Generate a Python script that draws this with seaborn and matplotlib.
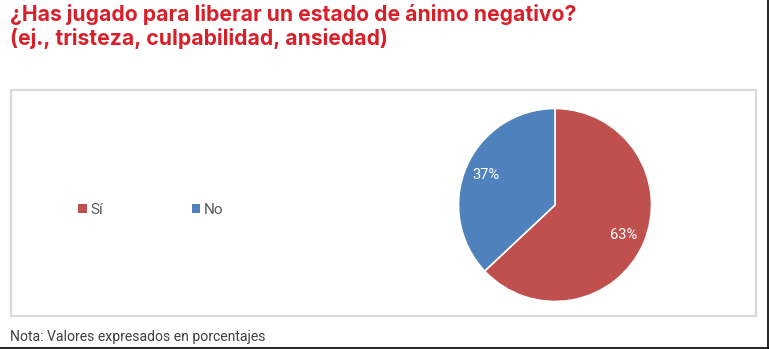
import matplotlib
matplotlib.use("Agg")
import matplotlib.pyplot as plt
from matplotlib.patches import Rectangle, Patch
from matplotlib.lines import Line2D
import seaborn as sns
import pandas as pd

# Survey answers
categories = ["Sí", "No"]
percentages = [63, 37]
colors = ["#c0504d", "#4f81bd"]

title_text = "¿Has jugado para liberar un estado de ánimo negativo?\n(ej., tristeza, culpabilidad, ansiedad)"
note_text = "Nota: Valores expresados en porcentajes"

df = pd.DataFrame({"respuesta": categories, "porcentaje": percentages})

sns.set_theme(style="white")
plt.rcParams["font.family"] = ["Roboto", "DejaVu Sans"]

W, H = 769, 349
fig = plt.figure(figsize=(W / 100, H / 100), dpi=100)
fig.patch.set_facecolor("white")


def fx(px):
    return px / W


def fy(py):
    return 1 - py / H


# Chart frame
fig.add_artist(Rectangle((fx(11), fy(316)), fx(756) - fx(11), fy(90) - fy(316),
                         transform=fig.transFigure, fill=False,
                         edgecolor="#d9d9d9", linewidth=1.6))
# Outer page edges (right and bottom)
fig.add_artist(Line2D([fx(768), fx(768)], [0, 1], transform=fig.transFigure,
                      color="black", linewidth=1.2))
fig.add_artist(Line2D([0, 1], [fy(347.5), fy(347.5)], transform=fig.transFigure,
                      color="black", linewidth=1.2))

# Pie
cx, cy, r = 555, 205, 96.5
ax = fig.add_axes([fx(cx - r), fy(cy + r), fx(2 * r), (2 * r) / H])
wedges, texts, autotexts = ax.pie(
    df["porcentaje"], colors=colors, startangle=90, counterclock=False,
    autopct="%1.0f%%", pctdistance=0.78, radius=1,
    wedgeprops=dict(edgecolor="white", linewidth=1.2),
    textprops=dict(color="white", fontsize=10.5),
)
ax.set_xlim(-1, 1)
ax.set_ylim(-1, 1)
ax.set_aspect("auto")
ax.axis("off")

# Legend
handles = [Patch(facecolor=c, edgecolor="none", label=l) for c, l in zip(colors, categories)]
fig.legend(handles=handles, loc="center left", bbox_to_anchor=(fx(72), fy(210)),
           ncol=2, frameon=False, fontsize=11, labelcolor="#595959",
           handlelength=0.55, handleheight=0.55, handletextpad=0.25,
           columnspacing=5.8, borderaxespad=0)

# Title and note
fig.text(fx(10), fy(4), title_text, ha="left", va="top", color="#d7202a",
         fontsize=15.2, fontweight="bold", family=["Inter", "DejaVu Sans"],
         linespacing=1.2)
fig.text(fx(10), fy(341), note_text, ha="left", va="baseline", color="#404040",
         fontsize=10.1)

fig.savefig("out.png", dpi=100, facecolor="white")
